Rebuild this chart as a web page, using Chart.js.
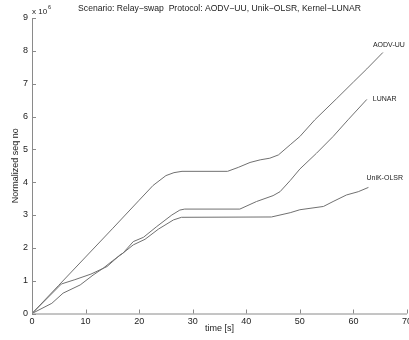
<!DOCTYPE html>
<html><head><meta charset="utf-8">
<script src="https://cdn.jsdelivr.net/npm/chart.js@4/dist/chart.umd.min.js"></script>
<style>html,body{margin:0;padding:0;background:#fff}#wrap{width:409px;height:340px}</style>
</head><body><div id="wrap"><canvas id="c" width="409" height="340"></canvas></div>
<script>
const titleText = 'Scenario: Relay\u2212swap  Protocol: AODV\u2212UU, Unik\u2212OLSR, Kernel\u2212LUNAR';
const xTicks = [0,10,20,30,40,50,60,70];
const yTicks = [0,1,2,3,4,5,6,7,8,9];
const seriesNames = ['AODV-UU','LUNAR','UniK-OLSR'];

const aodvT = [0,5,10,15,20,22.6,25,26.5,28,36.5,38.5,40.7,42.6,44.4,46,48.2,50,52.8,56.9,60,62.5,65.5];
const aodvV = [0,0.86,1.72,2.58,3.45,3.9,4.2,4.29,4.33,4.33,4.45,4.6,4.68,4.73,4.83,5.14,5.39,5.9,6.55,7.05,7.45,7.95];

const lunarT = [0,5.5,8,11,14,16.4,17,18.9,20.8,23.3,26.1,27.6,28.5,38.8,41.9,45,46.3,48.2,50,53.1,56.2,59,62.5];
const lunarV = [0,0.9,1.03,1.2,1.43,1.78,1.84,2.19,2.32,2.65,3.0,3.15,3.18,3.18,3.41,3.59,3.71,4.05,4.4,4.88,5.39,5.9,6.52];

const unikT = [0,3.7,5.8,9,11.4,13.3,15,17,18.9,21.1,23.6,26.4,27.9,44.7,48.2,50,54.4,56.2,58.7,60.9,62.8];
const unikV = [0,0.31,0.62,0.87,1.17,1.38,1.6,1.84,2.09,2.26,2.57,2.85,2.93,2.94,3.07,3.16,3.26,3.41,3.61,3.71,3.84];

const pts = (t,v)=>t.map((x,i)=>({x:x,y:v[i]}));
const FONT = 'Liberation Sans, Arial, Helvetica, sans-serif';
const TXT = '#222';
const AX = '#8a8a8a';
const LINE = '#707070';

const labelOffsets = [[6,-7,'center'],[6,0,'left'],[-2,-9,'left']];

const decor = {
  id:'decor',
  afterDraw(chart){
    const ctx = chart.ctx, xs = chart.scales.x, ys = chart.scales.y, a = chart.chartArea;
    ctx.save();
    ctx.strokeStyle = AX; ctx.lineWidth = 1;
    ctx.beginPath();
    ctx.moveTo(a.left+0.5, a.top); ctx.lineTo(a.left+0.5, a.bottom+0.5); ctx.lineTo(a.right, a.bottom+0.5);
    xTicks.forEach(t=>{const p=Math.round(xs.getPixelForValue(t))+0.5; ctx.moveTo(p,a.bottom); ctx.lineTo(p,a.bottom-4);});
    yTicks.forEach(t=>{const p=Math.round(ys.getPixelForValue(t))+0.5; ctx.moveTo(a.left,p); ctx.lineTo(a.left+4,p);});
    ctx.stroke();
    ctx.fillStyle = TXT;
    ctx.textBaseline = 'middle';
    ctx.textAlign = 'center';
    ctx.font = '8.6px ' + FONT;
    ctx.fillText(titleText, (a.left+a.right)/2, 9);
    ctx.textAlign = 'left';
    ctx.font = '8px ' + FONT;
    ctx.fillText('x 10', a.left, 12);
    const w = ctx.measureText('x 10').width;
    ctx.font = '5.5px ' + FONT;
    ctx.fillText('6', a.left + w + 1, 7);
    ctx.font = '7px ' + FONT;
    chart.data.datasets.forEach((ds,i)=>{
      const last = ds.data[ds.data.length-1];
      const px = xs.getPixelForValue(last.x), py = ys.getPixelForValue(last.y);
      const o = labelOffsets[i];
      ctx.textAlign = o[2];
      ctx.fillText(seriesNames[i], px+o[0], py+o[1]);
    });
    ctx.restore();
  }
};

new Chart(document.getElementById('c'), {
  type:'line',
  data:{datasets:[
    {label:seriesNames[0], data:pts(aodvT,aodvV)},
    {label:seriesNames[1], data:pts(lunarT,lunarV)},
    {label:seriesNames[2], data:pts(unikT,unikV)}
  ].map(d=>Object.assign(d,{borderColor:LINE,borderWidth:1,pointRadius:0,tension:0,fill:false}))},
  options:{
    responsive:false, animation:false, devicePixelRatio:1,
    layout:{padding:{top:18,right:2,left:0,bottom:0}},
    plugins:{legend:{display:false},tooltip:{enabled:false},title:{display:false}},
    scales:{
      x:{type:'linear',min:0,max:70,
        afterFit(s){s.height=26.5;s.paddingLeft=0;s.paddingRight=0;},
        afterBuildTicks(s){s.ticks=xTicks.map(v=>({value:v}));},
        grid:{display:false,drawTicks:false}, border:{display:false},
        ticks:{color:TXT,font:{family:FONT,size:9},padding:3,maxRotation:0,autoSkip:false},
        title:{display:true,text:'time [s]',color:TXT,font:{family:FONT,size:9},padding:{top:0,bottom:6}}
      },
      y:{type:'linear',min:0,max:9,
        afterFit(s){s.width=32;s.paddingTop=0;s.paddingBottom=0;},
        afterBuildTicks(s){s.ticks=yTicks.map(v=>({value:v}));},
        grid:{display:false,drawTicks:false}, border:{display:false},
        ticks:{color:TXT,font:{family:FONT,size:9},padding:4,autoSkip:false},
        title:{display:true,text:'Normalized seq no',color:TXT,font:{family:FONT,size:9},padding:{top:10,bottom:0}}
      }
    }
  },
  plugins:[decor]
});
</script></body></html>
